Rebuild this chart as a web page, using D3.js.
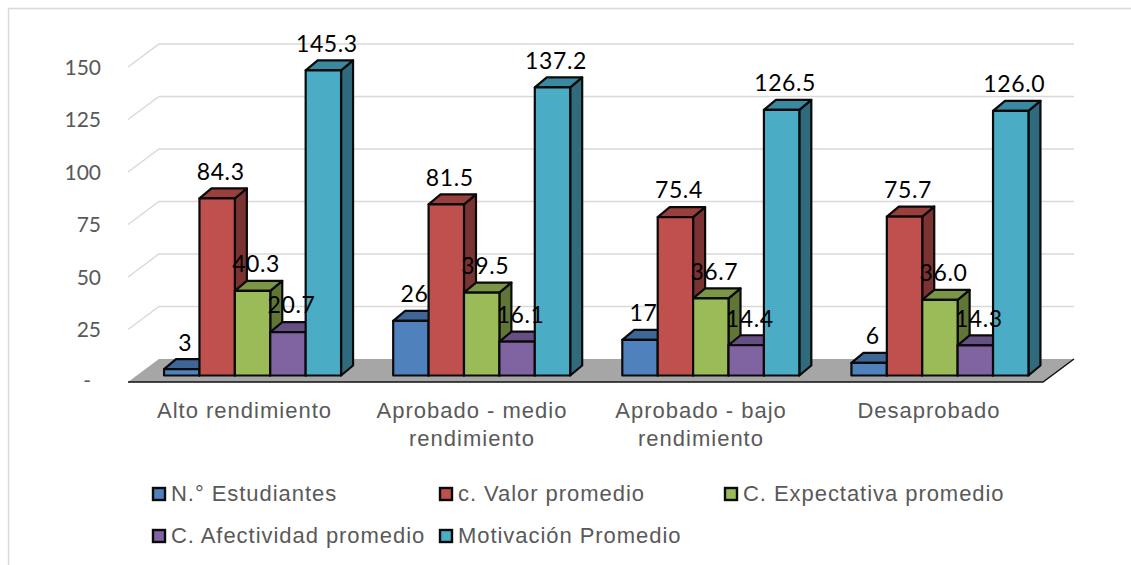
<!DOCTYPE html>
<html><head><meta charset="utf-8">
<script src="https://cdn.jsdelivr.net/npm/d3@7"></script>
<style>html,body{margin:0;padding:0;background:#fff}svg{display:block}</style>
</head><body><svg id="c" width="1131" height="565"></svg>
<script>
const categories = [["Alto rendimiento"],["Aprobado - medio","rendimiento"],["Aprobado - bajo","rendimiento"],["Desaprobado"]];
const seriesNames = ["N.° Estudiantes","c. Valor promedio","C. Expectativa promedio","C. Afectividad promedio","Motivación Promedio"];
const estudiantes = [3,26,17,6];
const valor = [84.3,81.5,75.4,75.7];
const expectativa = [40.3,39.5,36.7,36.0];
const afectividad = [20.7,16.1,14.4,14.3];
const motivacion = [145.3,137.2,126.5,126.0];
const labelText = [["3","26","17","6"],["84.3","81.5","75.4","75.7"],["40.3","39.5","36.7","36.0"],["20.7","16.1","14.4","14.3"],["145.3","137.2","126.5","126.0"]];
const series = [estudiantes,valor,expectativa,afectividad,motivacion];
const colors = ["#4f81bd","#c0504d","#9bbb59","#8064a2","#4bacc6"];
const topColors = ["#3e6797","#99403d","#7c9647","#664f82","#3a89a0"];
const sideColors = ["#315076","#7a3331","#617537","#4f3e66","#2f6b7c"];
const ticks = [0,25,50,75,100,125,150];

const svg = d3.select("#c");
const dx = 31, dy = 23, bx = 12, by = 10;
const x0 = d3.scaleBand().domain(d3.range(4)).range([128,1044.5]);
const y = d3.scaleLinear().domain([0,150]).range([382,67]);
const barW = 35.4, lift = 6.5, shift = 10;
const xBar = (g,s)=> x0(g)+x0.bandwidth()/2+shift+(s-2.5)*barW;

// frame
svg.append("path").attr("d","M8.5,565V8.5H1131").attr("fill","none").attr("stroke","#d9d9d9").attr("stroke-width",1.5);

// gridlines
svg.append("g").selectAll("path").data(ticks.slice(1)).join("path")
  .attr("d",t=>`M128,${y(t)}L${128+dx},${y(t)-dy}H${1043+dx}`)
  .attr("fill","none").attr("stroke","#d9d9d9").attr("stroke-width",1.5);

// floor
svg.append("path").attr("d",`M128,${y(0)}L${128+dx},${y(0)-dy}H${1043+dx}L1043,${y(0)}Z`).attr("fill","#a6a6a6");
svg.append("path").attr("d",`M128,${y(0)}H1043L${1043+dx},${y(0)-dy}`).attr("fill","none").attr("stroke","#111").attr("stroke-width",1.5);

// y tick labels
svg.append("g").selectAll("text").data(ticks).join("text")
  .attr("x",t=>t===0?91:101).attr("y",t=>y(t)+(t===0?1:2.5))
  .attr("text-anchor","end").attr("dominant-baseline","middle")
  .attr("font-family","Lato").attr("font-size",21).attr("fill","#595959")
  .text(t=>t===0?"-":t);

// bars
const strokeAttrs = sel=>sel.attr("stroke","#0a0a0a").attr("stroke-width",2.2).attr("stroke-linejoin","round");
d3.range(4).forEach(g=>{
  series.forEach((vals,s)=>{
    const X = xBar(g,s), T = y(vals[g])-lift, B = y(0)-lift, w = barW;
    const G = svg.append("g");
    strokeAttrs(G.append("path").attr("d",`M${X+w},${T}L${X+w+bx},${T-by}V${B-by}L${X+w},${B}Z`).attr("fill",sideColors[s]));
    strokeAttrs(G.append("path").attr("d",`M${X},${T}L${X+bx},${T-by}H${X+w+bx}L${X+w},${T}Z`).attr("fill",topColors[s]));
    strokeAttrs(G.append("rect").attr("x",X).attr("y",T).attr("width",w).attr("height",B-T).attr("fill",colors[s]));
  });
});
// data labels
d3.range(4).forEach(g=>{
  series.forEach((vals,s)=>{
    svg.append("text").attr("x",xBar(g,s)+barW/2+3.5).attr("y",y(vals[g])-lift-24.5)
      .attr("text-anchor","middle").attr("dominant-baseline","middle")
      .attr("font-family","Lato").attr("font-size",23).attr("letter-spacing",0.6).attr("fill","#000")
      .text(labelText[s][g]);
  });
});
// category labels
const catCx = [244.5,472,701,929];
categories.forEach((lines,g)=>{
  lines.forEach((l,i)=>{
    svg.append("text").attr("x",catCx[g]).attr("y",412+i*28.5)
      .attr("text-anchor","middle").attr("dominant-baseline","middle")
      .attr("font-family","Liberation Sans").attr("font-size",22).attr("letter-spacing",1).attr("fill","#595959").text(l);
  });
});
// legend
const legX = [153,440,725,153,440], legY = [494,494,494,536,536];
seriesNames.forEach((n,i)=>{
  svg.append("rect").attr("x",legX[i]).attr("y",legY[i]-6).attr("width",12).attr("height",12)
    .attr("fill",colors[i]).attr("stroke","#0a0a0a").attr("stroke-width",2.4);
  svg.append("text").attr("x",legX[i]+18).attr("y",legY[i]+1)
    .attr("dominant-baseline","middle").attr("font-family","Liberation Sans").attr("font-size",22)
    .attr("letter-spacing",0.95).attr("fill","#595959").text(n);
});
</script></body></html>
